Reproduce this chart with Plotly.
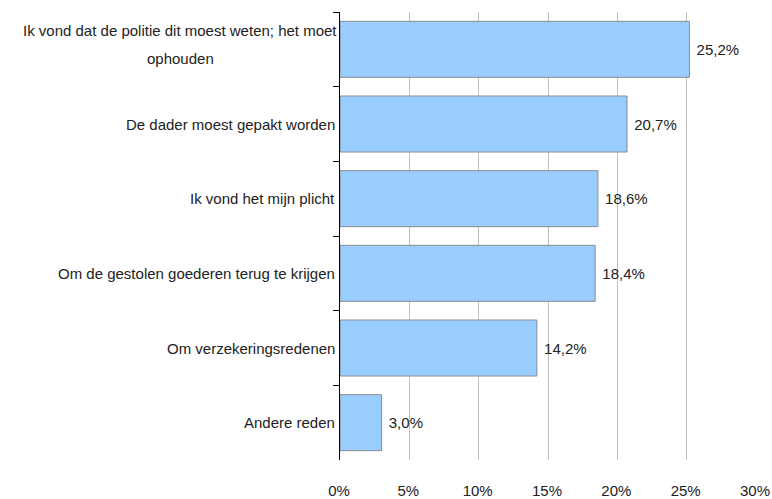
import plotly.graph_objects as go

redenen = [
    "Ik vond dat de politie dit moest weten; het moet\nophouden",
    "De dader moest gepakt worden",
    "Ik vond het mijn plicht",
    "Om de gestolen goederen terug te krijgen",
    "Om verzekeringsredenen",
    "Andere reden",
]
percentages = [25.2, 20.7, 18.6, 18.4, 14.2, 3.0]
x_ticks = [0, 5, 10, 15, 20, 25, 30]

font = "Liberation Sans, Arial, sans-serif"
keys = [f"c{i}" for i in range(len(redenen))]

fig = go.Figure()
fig.add_trace(
    go.Bar(
        x=percentages,
        y=keys,
        orientation="h",
        marker=dict(color="#99CCFF", line=dict(color="#8c8c8c", width=1)),
        width=0.75,
        text=percentages,
        texttemplate=" %{x:.1f}%",
        textposition="outside",
        textfont=dict(family=font, size=15, color="#222222"),
        cliponaxis=False,
        hoverinfo="skip",
    )
)

# category labels, centred per line like the original
for key, label in zip(keys, redenen):
    lines = label.split("\n")
    n = len(lines)
    for j, line in enumerate(lines):
        fig.add_annotation(
            x=0, xref="paper", y=key, yref="y",
            text=line, showarrow=False,
            xanchor="right" if n == 1 else "center",
            xshift=-3 if n == 1 else -160,
            yshift=0 if n == 1 else 19 - j * 28,
            font=dict(family=font, size=15, color="#222222"),
        )

fig.update_layout(
    width=772,
    height=499,
    margin=dict(l=340, r=16, t=12, b=39),
    plot_bgcolor="white",
    paper_bgcolor="white",
    separators=",.",
    showlegend=False,
    font=dict(family=font, size=15, color="#222222"),
)
fig.update_xaxes(
    range=[0, 30],
    tickvals=x_ticks,
    ticktext=[f"{v}%" for v in x_ticks],
    showgrid=True,
    gridcolor="#c0c0c0",
    gridwidth=1,
    zeroline=False,
    showline=False,
    ticks="",
    ticklabelstandoff=20,
    ticklabelshift=-1,
    ticklabeloverflow="allow",
    automargin=False,
    tickfont=dict(family=font, size=15, color="#222222"),
)
fig.update_yaxes(
    categoryorder="array",
    categoryarray=keys,
    autorange="reversed",
    showticklabels=False,
    showline=True,
    linecolor="black",
    linewidth=1,
    ticks="outside",
    tickson="boundaries",
    ticklen=6,
    tickcolor="black",
    showgrid=False,
    automargin=False,
)

# drop the default body margin so the figure fills the window exactly
fig.write_html(
    "out.html",
    config={"displayModeBar": False},
    post_script="document.body.style.margin='0';",
)
